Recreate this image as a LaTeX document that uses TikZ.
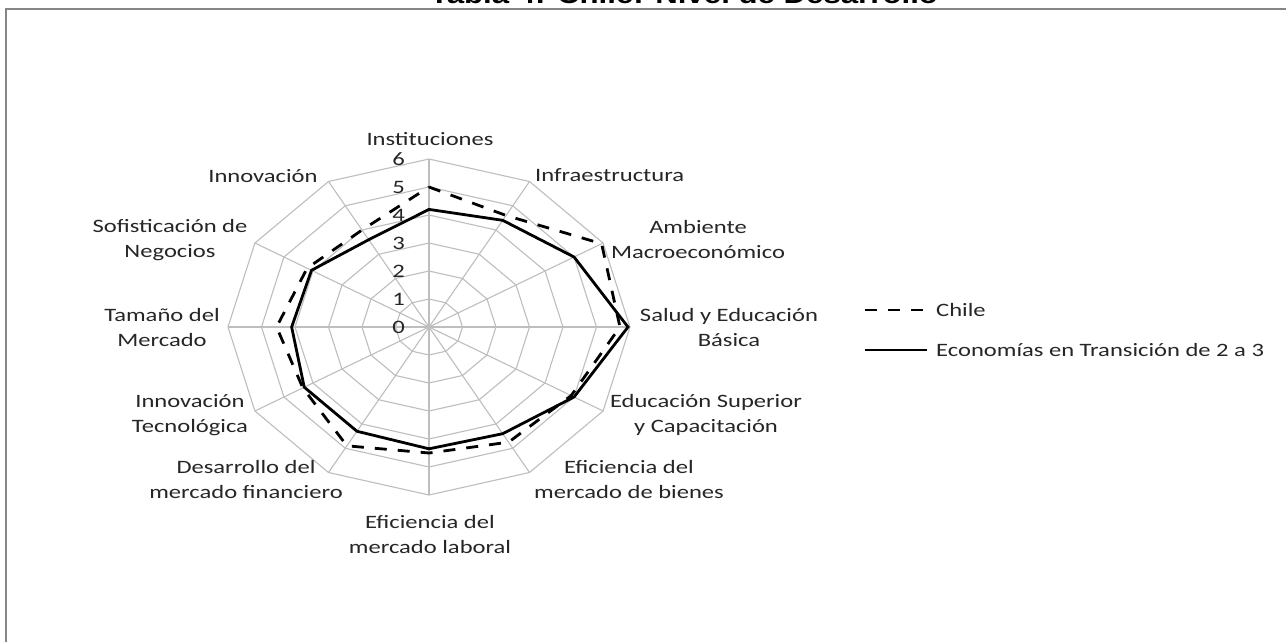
\documentclass[tikz,border=0pt]{standalone}
\usepackage{fontspec}
\newfontfamily\lbl{Carlito}[FakeStretch=1.3]
\newfontfamily\ttl{Liberation Sans}[FakeStretch=1.2]
\definecolor{gridgray}{HTML}{BEBEBE}
\definecolor{framegray}{HTML}{868686}
\definecolor{txt}{HTML}{262626}
\begin{document}
\begin{tikzpicture}[x=1pt,y=-1pt,
  lab/.style={font=\lbl\fontsize{18.9}{25}\selectfont, align=center, inner sep=0pt, text=txt},
  ticklab/.style={font=\lbl\fontsize{19}{22}\selectfont, anchor=east, inner sep=0pt, text=txt},
  leg/.style={font=\lbl\fontsize{18.9}{24}\selectfont, anchor=west, inner sep=0pt, text=txt},
  gridline/.style={draw=gridgray, line width=1.1pt},
  chile/.style={draw=black, line width=2.8pt, dash pattern=on 12pt off 11pt, line join=miter},
  econ/.style={draw=black, line width=2.8pt, line join=miter}]
\useasboundingbox (0,0) rectangle (1286,641);
\fill[white] (0,0) rectangle (1286,641);
\draw[framegray, line width=2pt] (6,700) -- (6,9) -- (1300,9);
\node[font=\ttl\bfseries\fontsize{26}{30}\selectfont, anchor=base, inner sep=0pt] (title) at (684,3) {Tabla 4: Chile: Nivel de Desarrollo};
\begin{scope}[shift={(429pt,-327pt)}, x=33.5pt, y=28pt]
  \foreach \r in {1,...,6}
    \draw[gridline] (90:\r) \foreach \a in {60,30,...,-240}{ -- (\a:\r)} -- cycle;
  \foreach \a in {0,30,...,330}
    \draw[gridline] (0,0) -- (\a:6);
  \draw[chile] (90:5.0) -- (60:4.6) -- (30:5.95) -- (0:5.7) -- (-30:4.9) -- (-60:4.75) -- (-90:4.5) -- (-120:4.9) -- (-150:4.35) -- (180:4.55) -- (150:4.2) -- (120:4.0) -- cycle;
  \draw[econ] (90:4.2) -- (60:4.4) -- (30:5.0) -- (0:5.94) -- (-30:5.0) -- (-60:4.4) -- (-90:4.35) -- (-120:4.3) -- (-150:4.3) -- (180:4.1) -- (150:4.05) -- (120:3.6) -- cycle;
\end{scope}
\foreach \k in {0,...,6}
  \node[ticklab] (t\k) at (405,{327-28*\k}) {\k};
\node[lab] (l1) at (430,139) {Instituciones};
\node[lab, anchor=west] (l2) at (535,175) {Infraestructura};
\node[lab] (l3) at (698,240) {Ambiente\\Macroeconómico};
\node[lab] (l4) at (729,327) {Salud y Educación\\Básica};
\node[lab] (l5) at (706,415) {Educación Superior\\y Capacitación};
\node[lab] (l6) at (629,479) {Eficiencia del\\mercado de bienes};
\node[lab] (l7) at (430,534) {Eficiencia del\\mercado laboral};
\node[lab] (l8) at (246,479) {Desarrollo del\\mercado financiero};
\node[lab] (l9) at (190,415) {Innovación\\Tecnológica};
\node[lab] (l10) at (162,327) {Tamaño del\\Mercado};
\node[lab] (l11) at (170,240) {Sofisticación de\\Negocios};
\node[lab] (l12) at (263,176) {Innovación};
\coordinate (lc1) at (865,310);
\coordinate (lc2) at (927,310);
\coordinate (le1) at (865,350);
\coordinate (le2) at (927,350);
\draw[chile] (lc1) -- (lc2);
\draw[econ] (le1) -- (le2);
\node[leg] (lchile) at (936,310) {Chile};
\node[leg] (lecon) at (936,350) {Economías en Transición de 2 a 3};
\end{tikzpicture}
\end{document}
